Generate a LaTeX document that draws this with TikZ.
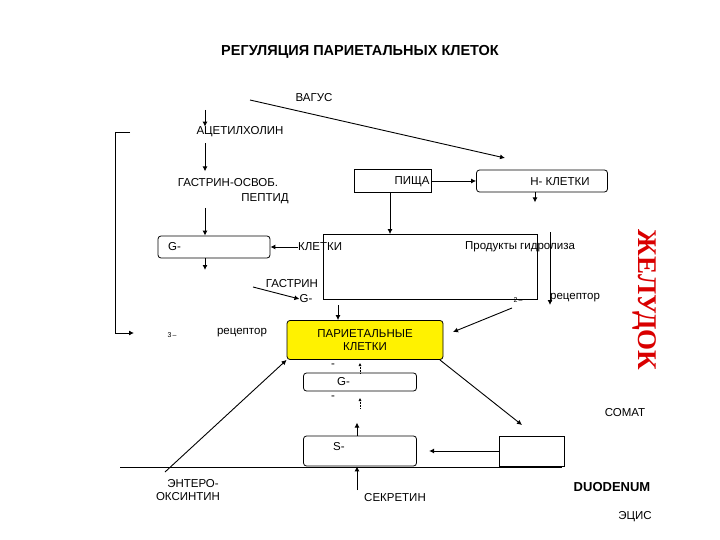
\documentclass[tikz,border=0pt]{standalone}
\usepackage{fontspec}
\setmainfont{Liberation Sans}
\newfontfamily\serifbold{Liberation Serif}
\usetikzlibrary{arrows.meta}
\tikzset{
  lbl/.style={inner sep=0pt, font=\fontsize{11.5}{13}\selectfont},
  box/.style={draw, line width=0.8pt, inner sep=0pt},
  rbox/.style={box, rounded corners=3pt},
  arr/.style={-{Latex[length=5pt,width=5pt]}, line width=0.9pt},
  dots/.style={-{Latex[length=3pt,width=3pt]}, densely dotted, line width=0.5pt}
}
\begin{document}
\begin{tikzpicture}[x=1pt,y=-1pt]
    \useasboundingbox (0,0) rectangle (720,540);
    \node[font=\bfseries\fontsize{14.5}{16}\selectfont] (title) at (360,52) {РЕГУЛЯЦИЯ ПАРИЕТАЛЬНЫХ КЛЕТОК};
    % left column
    \node[lbl] (vagus) at (314,98) {ВАГУС};
    \coordinate (v0) at (205,110);
    \node[lbl] (ach) at (240,132) {АЦЕТИЛХОЛИН};
    \draw[arr] (v0) -- (ach.north -| v0);
    \node[lbl] (grp1) at (228,183) {ГАСТРИН-ОСВОБ.};
    \node[lbl] (grp2) at (265,199) {ПЕПТИД};
    \draw[arr] (ach.south -| v0) ++(0,6) -- ++(0,28);
    \node[rbox, minimum width=112pt, minimum height=22pt] (gcell) at (214,247) {};
    \node[lbl, anchor=west] (glbl) at (168,247) {G-};
    \draw[arr] (205,208) -- (gcell.north -| v0);
    \coordinate (g1) at (205,270);
    \draw[arr] (gcell.south -| v0) -- (g1);
    % food
    \node[box, minimum width=77pt, minimum height=23pt] (food) at (393,181) {};
    \node[lbl] (foodlbl) at (412,182) {ПИЩА};
    \node[rbox, minimum width=131pt, minimum height=22pt] (hcell) at (542,181) {};
    \node[lbl] (hlbl) at (560,182) {Н- КЛЕТКИ};
    \draw[arr] (food.east) -- (hcell.west);
    \draw[arr] (hcell.south -| 535,0) -- ++(0,10);
    \draw[arr] (250,100) -- (505,158);
    \node[box, minimum width=214pt, minimum height=65pt] (hydro) at (430,267) {};
    \draw[arr] (food.south -| 390,0) -- (hydro.north -| 390,0);
    \node[lbl, anchor=west] (klet) at (298,247) {КЛЕТКИ};
    \draw[arr] (klet.west) -- (gcell.east);
    \node[lbl] (prod) at (520,247) {Продукты гидролиза};
    \draw[arr] (550,232) -- (550,305);
    \node[lbl] (gastrin) at (292,284) {ГАСТРИН};
    \node[lbl] (g2) at (306,299) {G-};
    \draw[arr] (253,287) -- (g2.west);
    \node[lbl] (r2n) at (518,300) {\fontsize{7}{8}\selectfont 2\,--};
    \node[lbl] (r2) at (575,298) {рецептор};
    % parietal
    \node[rbox, fill=yellow, minimum width=156pt, minimum height=39pt, align=center, lbl] (pariet) at (365,340) {ПАРИЕТАЛЬНЫЕ\\КЛЕТКИ};
    \coordinate (pe) at (453,332);
    \draw[arr] (338,305) -- (pariet.north -| 338,0);
    \draw[arr] (512,308) -- (pe);
    \node[lbl] (r3n) at (172,335) {\fontsize{7}{8}\selectfont 3\,--};
    \node[lbl] (r3) at (242,333) {рецептор};
    \draw[line width=0.9pt] (130,132) -- (115,132) coordinate (b1);
    \draw[arr] (b1) -- (115,333) -- (134,333);
    \node[lbl] (m1) at (333,366) {-};
    \draw[dots] (360,373) -- (360,363);
    \node[rbox, minimum width=113pt, minimum height=18pt] (gbox) at (360,382) {};
    \node[lbl, anchor=west] (gboxlbl) at (337,382) {G-};
    \node[lbl] (m2) at (333,398) {-};
    \draw[dots] (360,408) -- (360,398);
    \node[rbox, minimum width=113pt, minimum height=30pt] (sbox) at (360,451) {};
    \node[lbl, anchor=west] (sboxlbl) at (333,447) {S-};
    \draw[arr] (sbox.north -| 357,0) -- ++(0,-13);
    \node[box, minimum width=65pt, minimum height=30pt] (dbox) at (532,451) {};
    \draw[arr] (dbox.west) -- ++(-70,0) coordinate (sin) ;
    \draw[arr] (440,360) -- (522,425);
    \draw[line width=0.3pt] (120,467) -- (562,467);
    % bottom
    \node[lbl, align=center] (ent) at (188,490) {\hspace*{10pt}ЭНТЕРО-\\ОКСИНТИН};
    \draw[arr] (165,472) -- (pariet.south west);
    \node[lbl] (secr) at (395,498) {СЕКРЕТИН};
    \draw[arr] (357,490) -- (sbox.south -| 357,0);
    \node[lbl, font=\bfseries\fontsize{13}{14}\selectfont] (duod) at (612,487) {DUODENUM};
    \node[lbl] (somat) at (625,413) {СОМАТ};
    \node[lbl] (ecis) at (635,517) {ЭЦИС};
    \node[font=\serifbold\bfseries\fontsize{27}{28}\selectfont, text=red!85!black, rotate=-90] (stom) at (645,300) {ЖЕЛУДОК};
\end{tikzpicture}
\end{document}
